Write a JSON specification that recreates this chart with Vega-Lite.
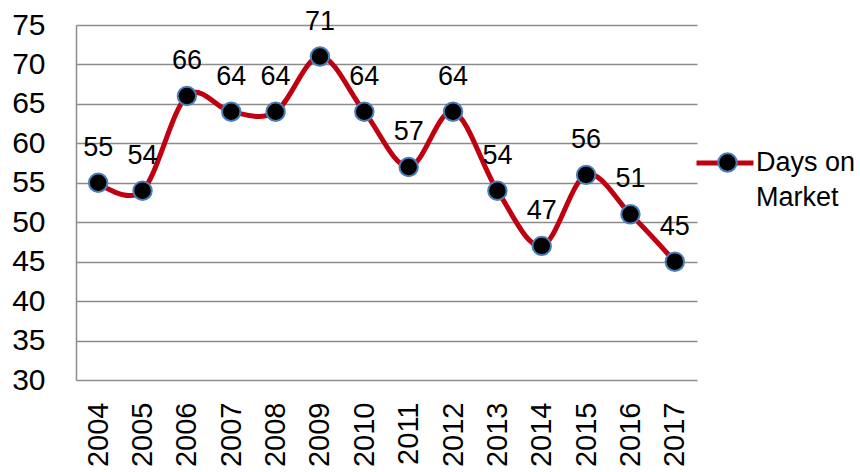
{
  "$schema": "https://vega.github.io/schema/vega-lite/v6.json",
  "width": 621,
  "height": 355,
  "autosize": {"type": "none"},
  "padding": {"left": 76, "top": 25, "right": 163, "bottom": 92},
  "background": "white",
  "config": {
    "view": {"stroke": null},
    "font": "Liberation Sans",
    "axis": {"labelFont": "Liberation Sans", "labelColor": "#000000"},
    "style": {"guide-label": {"lineHeight": 35}}
  },
  "data": {
    "values": [
      {"year": "2004", "days": 55},
      {"year": "2005", "days": 54},
      {"year": "2006", "days": 66},
      {"year": "2007", "days": 64},
      {"year": "2008", "days": 64},
      {"year": "2009", "days": 71},
      {"year": "2010", "days": 64},
      {"year": "2011", "days": 57},
      {"year": "2012", "days": 64},
      {"year": "2013", "days": 54},
      {"year": "2014", "days": 47},
      {"year": "2015", "days": 56},
      {"year": "2016", "days": 51},
      {"year": "2017", "days": 45}
    ]
  },
  "encoding": {
    "x": {
      "field": "year",
      "type": "ordinal",
      "scale": {"type": "point", "padding": 0.5},
      "axis": {
        "title": null,
        "labelAngle": -90,
        "labelFontSize": 29,
        "labelPadding": 22,
        "ticks": false,
        "domain": false,
        "grid": false
      }
    },
    "y": {
      "field": "days",
      "type": "quantitative",
      "scale": {"domain": [30, 75], "nice": false, "zero": false},
      "axis": {
        "title": null,
        "values": [30, 35, 40, 45, 50, 55, 60, 65, 70, 75],
        "labelFontSize": 30,
        "labelPadding": 31,
        "ticks": false,
        "domain": true,
        "domainColor": "#8c8c8c",
        "domainWidth": 1.5,
        "grid": true,
        "gridColor": "#8c8c8c",
        "gridWidth": 1.5
      }
    }
  },
  "layer": [
    {
      "mark": {"type": "line", "interpolate": "cardinal", "strokeWidth": 5, "strokeCap": "round"},
      "encoding": {
        "stroke": {
          "datum": "Days on Market",
          "scale": {"range": ["#C00010"]},
          "legend": {
            "orient": "none",
            "legendX": 618,
            "legendY": 107,
            "title": null,
            "padding": 0,
            "symbolType": "stroke",
            "symbolSize": 3249,
            "symbolStrokeWidth": 5,
            "labelFontSize": 27,
            "labelFont": "Liberation Sans",
            "labelColor": "#000000",
            "labelOffset": 0,
            "labelLimit": 200,
            "labelBaseline": "middle",
            "labelExpr": "['Days on', 'Market']"
          }
        }
      }
    },
    {
      "mark": {"type": "point", "filled": true, "size": 340, "stroke": "#4a7ebb", "strokeWidth": 2, "opacity": 1},
      "encoding": {
        "fill": {
          "datum": "marker",
          "scale": {"range": ["#000000"]},
          "legend": {
            "orient": "none",
            "legendX": 641,
            "legendY": 127,
            "title": null,
            "padding": 0,
            "symbolType": "circle",
            "symbolSize": 340,
            "symbolStrokeColor": "#4a7ebb",
            "symbolStrokeWidth": 2,
            "symbolFillColor": "#000000",
            "labelExpr": "''"
          }
        }
      }
    },
    {
      "mark": {"type": "text", "fontSize": 27, "font": "Liberation Sans", "color": "#000000", "baseline": "alphabetic", "align": "center", "dy": -27},
      "encoding": {
        "text": {"field": "days", "type": "quantitative"}
      }
    }
  ]
}
